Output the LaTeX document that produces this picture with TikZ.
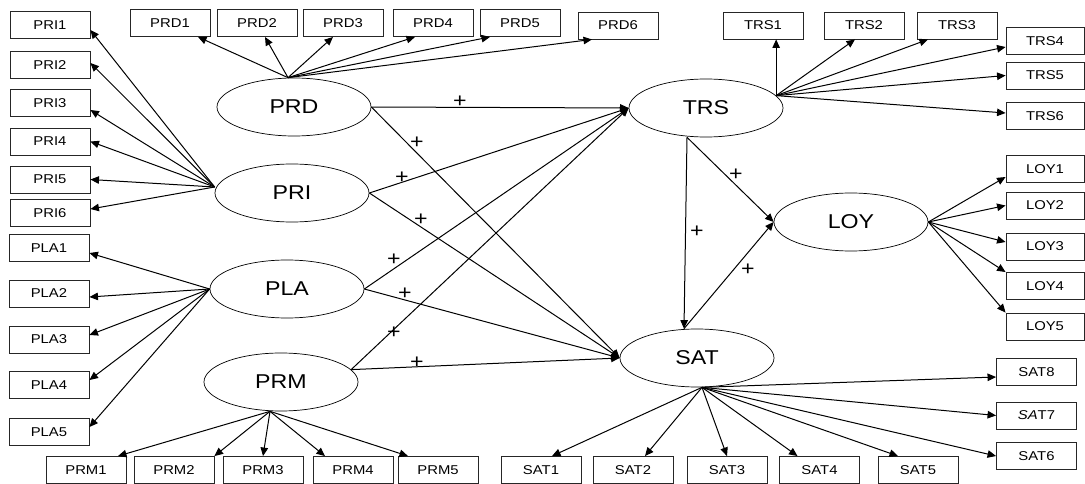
\documentclass[tikz,border=0pt]{standalone}
\usepackage{fontspec}
\setmainfont{Liberation Sans}[FakeStretch=1.16]
\usetikzlibrary{shapes.geometric,arrows.meta}
\tikzset{
  ind/.style={draw=black!85,line width=0.9pt,minimum width=80pt,minimum height=27pt,inner sep=0pt,font=\fontsize{12.8}{14}\selectfont},
  indr/.style={ind,minimum width=78pt},
  lat/.style={draw,ellipse,line width=0.7pt,minimum width=154pt,minimum height=58pt,inner sep=0pt,font=\fontsize{20}{22}\selectfont},
  arr/.style={line width=1pt,-{Triangle[length=8.5pt,width=7.5pt]}},
  plus/.style={font=\fontsize{20}{20}\selectfont,inner sep=0pt}
}
\begin{document}
\begin{tikzpicture}[x=1pt,y=-1pt]
\useasboundingbox (0,0) rectangle (1085,484);
% latent variables
\node[lat] (prd) at (294,107) {PRD};
\node[lat] (pri) at (292,193) {PRI};
\node[lat] (pla) at (287,289) {PLA};
\node[lat] (prm) at (281,382) {PRM};
\node[lat] (trs) at (706,108) {TRS};
\node[lat] (loy) at (851,222) {LOY};
\node[lat] (sat) at (697,358) {SAT};
% PRI indicators
\node[ind] (pri1) at (50,25) {PRI1};
\node[ind] (pri2) at (50,65) {PRI2};
\node[ind] (pri3) at (50,103) {PRI3};
\node[ind] (pri4) at (50,141.5) {PRI4};
\node[ind] (pri5) at (50,179.5) {PRI5};
\node[ind] (pri6) at (50,213) {PRI6};
% PLA indicators
\node[ind] (pla1) at (49,248) {PLA1};
\node[ind] (pla2) at (49,293.5) {PLA2};
\node[ind] (pla3) at (49,339.5) {PLA3};
\node[ind] (pla4) at (49,385) {PLA4};
\node[ind] (pla5) at (49,432) {PLA5};
% PRM indicators
\node[ind] (prm1) at (86,470) {PRM1};
\node[ind] (prm2) at (174,470) {PRM2};
\node[ind] (prm3) at (263,470) {PRM3};
\node[ind] (prm4) at (353,470) {PRM4};
\node[ind] (prm5) at (438,470) {PRM5};
% PRD indicators
\node[ind] (prd1) at (170,23) {PRD1};
\node[ind] (prd2) at (257,23) {PRD2};
\node[ind] (prd3) at (343,23) {PRD3};
\node[ind] (prd4) at (433,23) {PRD4};
\node[ind] (prd5) at (520,23) {PRD5};
\node[ind] (prd6) at (618,25.5) {PRD6};
% TRS indicators
\node[ind] (trs1) at (763,25.5) {TRS1};
\node[ind] (trs2) at (864,25.5) {TRS2};
\node[ind] (trs3) at (957,25.5) {TRS3};
\node[indr] (trs4) at (1045,41) {TRS4};
\node[indr] (trs5) at (1045,75.5) {TRS5};
\node[indr] (trs6) at (1045,116) {TRS6};
% LOY indicators
\node[indr] (loy1) at (1045,169) {LOY1};
\node[indr] (loy2) at (1045,205.5) {LOY2};
\node[indr] (loy3) at (1045,246.5) {LOY3};
\node[indr] (loy4) at (1045,286) {LOY4};
\node[indr] (loy5) at (1045,326.5) {LOY5};
% SAT indicators
\node[ind] (sat8) at (1036.5,372) {SAT8};
\node[ind] (sat7) at (1036.5,415.5) {\textit{SA}T7};
\node[ind] (sat6) at (1036.5,456) {SAT6};
\node[ind] (sat1) at (541,470) {SAT1};
\node[ind] (sat2) at (633,470) {SAT2};
\node[ind] (sat3) at (727,470) {SAT3};
\node[ind] (sat4) at (819.5,470) {SAT4};
\node[ind] (sat5) at (918,470) {SAT5};
% origins
\coordinate (prdo) at ([xshift=-6pt]prd.north);
\coordinate (prio) at ([yshift=6pt]pri.west);
\coordinate (prmo) at ([xshift=-11pt]prm.south);
\coordinate (trso) at (trs.10);
\coordinate (sato) at ([xshift=5pt]sat.south);
\coordinate (trsb) at ([xshift=-19pt]trs.south);
\coordinate (satt) at ([xshift=-13pt]sat.north);
% PRD arrows
\draw[arr] (prdo) -- ([xshift=28pt]prd1.south);
\draw[arr] (prdo) -- ([xshift=8pt]prd2.south);
\draw[arr] (prdo) -- ([xshift=-10pt]prd3.south);
\draw[arr] (prdo) -- ([xshift=-18pt]prd4.south);
\draw[arr] (prdo) -- ([xshift=-30pt]prd5.south);
\draw[arr] (prdo) -- ([xshift=-26pt]prd6.south);
% PRI arrows
\draw[arr] (prio) -- ([yshift=-5pt]pri1.east);
\draw[arr] (prio) -- ([yshift=2pt]pri2.east);
\draw[arr] (prio) -- ([yshift=-7pt]pri3.east);
\draw[arr] (prio) -- (pri4.east);
\draw[arr] (prio) -- (pri5.east);
\draw[arr] (prio) -- ([yshift=4pt]pri6.east);
% PLA arrows
\draw[arr] (pla.west) -- ([yshift=-5pt]pla1.east);
\draw[arr] (pla.west) -- ([yshift=-3.5pt]pla2.east);
\draw[arr] (pla.west) -- ([yshift=4.5pt]pla3.east);
\draw[arr] (pla.west) -- ([yshift=5pt]pla4.east);
\draw[arr] (pla.west) -- ([yshift=5pt]pla5.east);
% PRM arrows
\draw[arr] (prmo) -- ([xshift=32pt]prm1.north);
\draw[arr] (prmo) -- (prm2.north east);
\draw[arr] (prmo) -- (prm3.north);
\draw[arr] (prmo) -- ([xshift=-28pt]prm4.north);
\draw[arr] (prmo) -- ([xshift=-30pt]prm5.north);
% TRS arrows
\draw[arr] (trso) -- (trso |- trs1.south);
\draw[arr] (trso) -- ([xshift=-9pt]trs2.south);
\draw[arr] (trso) -- ([xshift=-29pt]trs3.south);
\draw[arr] (trso) -- ([yshift=-6pt]trs4.west);
\draw[arr] (trso) -- (trs5.west);
\draw[arr] (trso) -- ([yshift=3pt]trs6.west);
% LOY arrows
\draw[arr] (loy.east) -- ([yshift=-8pt]loy1.west);
\draw[arr] (loy.east) -- (loy2.west);
\draw[arr] (loy.east) -- ([yshift=4.5pt]loy3.west);
\draw[arr] (loy.east) -- (loy4.north west);
\draw[arr] (loy.east) -- (loy5.north west);
% SAT arrows
\draw[arr] (sato) -- ([yshift=-5pt]sat8.west);
\draw[arr] (sato) -- (sat7.west);
\draw[arr] (sato) -- (sat6.west);
\draw[arr] (sato) -- ([xshift=11pt]sat1.north);
\draw[arr] (sato) -- ([xshift=12pt]sat2.north);
\draw[arr] (sato) -- (sat3.north);
\draw[arr] (sato) -- ([xshift=-22pt]sat4.north);
\draw[arr] (sato) -- ([xshift=-20pt]sat5.north);
% structural paths
\draw[arr] (prd.east) -- (trs.west);
\draw[arr] (prd.east) -- (sat.west);
\draw[arr] (pri.east) -- (trs.west);
\draw[arr] (pri.east) -- (sat.west);
\draw[arr] (pla.east) -- (trs.west);
\draw[arr] (pla.east) -- (sat.west);
\draw[arr] (prm.10) -- (trs.west);
\draw[arr] (prm.10) -- (sat.west);
\draw[arr] (trsb) -- (satt);
\draw[arr] (trsb) -- (loy.west);
\draw[arr] (satt) -- (loy.west);
% plus labels
\node[plus] (p1) at (460,102) {+};
\node[plus] (p2) at (417,143) {+};
\node[plus] (p3) at (402,178) {+};
\node[plus] (p4) at (421,220) {+};
\node[plus] (p5) at (394,260) {+};
\node[plus] (p6) at (405,294) {+};
\node[plus] (p7) at (394,333) {+};
\node[plus] (p8) at (417,363) {+};
\node[plus] (p9) at (736,175) {+};
\node[plus] (p10) at (697,232) {+};
\node[plus] (p11) at (748,270) {+};
\end{tikzpicture}
\end{document}
